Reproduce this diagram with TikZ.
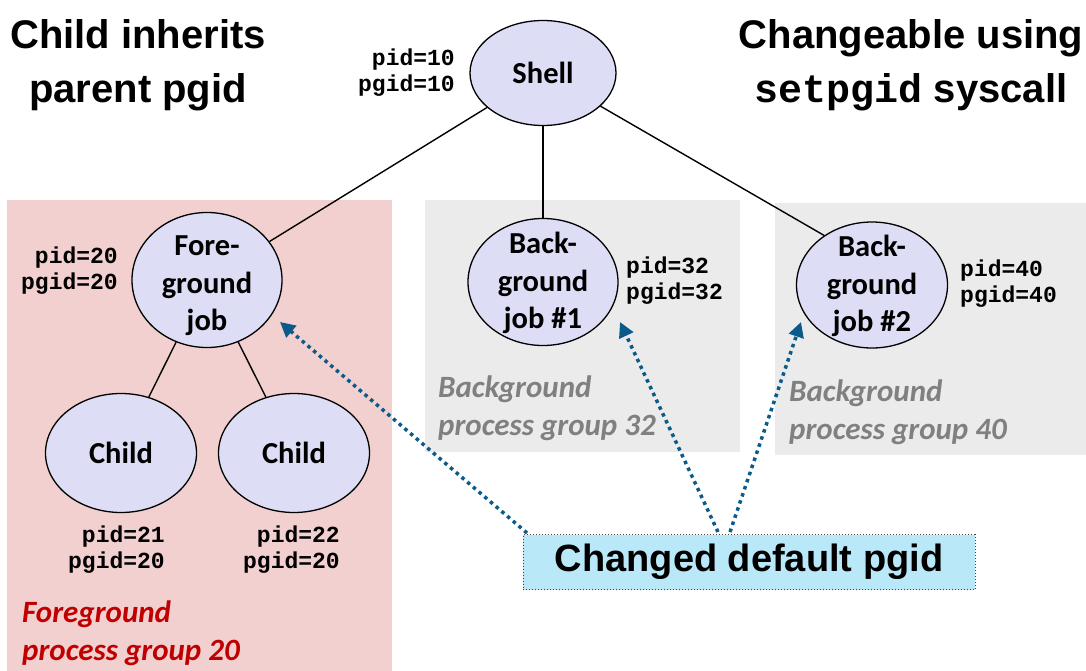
\documentclass[tikz,border=0pt]{standalone}
\usepackage{fontspec}
\setmainfont{Liberation Sans}
\newfontfamily\calfont{Carlito}
\newfontfamily\monofont{Liberation Mono}
\usetikzlibrary{arrows.meta,shapes.geometric}
\definecolor{procfill}{HTML}{DDDDF5}
\definecolor{pinkbg}{HTML}{F2D0CF}
\definecolor{graybg}{HTML}{EBEBEB}
\definecolor{graytext}{HTML}{808080}
\definecolor{redtext}{HTML}{C00000}
\definecolor{cyanbox}{HTML}{B9E9F9}
\definecolor{arrowblue}{HTML}{0B5A8A}
\tikzset{
  proc/.style={ellipse, draw=black, line width=1.3pt, fill=procfill, inner sep=0pt},
  ptext/.style={align=center, font=\calfont\bfseries\fontsize{30.5}{37.5}\selectfont, inner sep=0pt},
  pidl/.style={font=\monofont\bfseries\fontsize{23}{26}\selectfont, inner sep=0pt},
  title/.style={align=center, font=\bfseries\fontsize{40}{54}\selectfont, inner sep=0pt},
  grp/.style={align=left, anchor=west, font=\calfont\bfseries\itshape\fontsize{31}{38}\selectfont, inner sep=0pt},
  edge/.style={line width=1.4pt, black},
  ptr/.style={line width=3.5pt, arrowblue, dash pattern=on 3.5pt off 4pt, -{Triangle[length=15pt,width=15pt]}},
}
\begin{document}
\begin{tikzpicture}[x=1pt,y=-1pt]
\useasboundingbox (0,0) rectangle (1086,671);
% group backgrounds
\fill[pinkbg] (7,200) rectangle (392,671);
\fill[graybg] (425,200) rectangle (740,452);
\fill[graybg] (775,203) rectangle (1086,455);
% titles
\node[title] (t1) at (138,65) {Child inherits\\parent pgid};
\node[title] (t2) at (911,65) {Changeable using\\{\monofont\bfseries setpgid} syscall};
% process ellipses
\node[proc, minimum width=146pt, minimum height=105pt] (shell) at (543,73) {};
\node[proc, minimum width=150pt, minimum height=135pt] (fg) at (207,280) {};
\node[proc, minimum width=151pt, minimum height=119pt] (c1) at (121,453) {};
\node[proc, minimum width=151pt, minimum height=119pt] (c2) at (294,453) {};
\node[proc, minimum width=150pt, minimum height=127pt] (bg1) at (543,282) {};
\node[proc, minimum width=151pt, minimum height=126pt] (bg2) at (872,285) {};
\node[ptext] (shellt) at (shell) {Shell};
\node[ptext] (fgt) at ([yshift=-6pt]fg.center) {Fore-\\ground\\job};
\node[ptext] (c1t) at (c1) {Child};
\node[ptext] (c2t) at (c2) {Child};
\node[ptext] (bg1t) at ([yshift=-1pt]bg1.center) {Back-\\ground\\job \#1};
\node[ptext] (bg2t) at ([yshift=-1pt]bg2.center) {Back-\\ground\\job \#2};
% tree edges
\draw[edge] (shell) -- (fg);
\draw[edge] (shell) -- (bg1);
\draw[edge] (shell.-30) -- (bg2.134);
\draw[edge] (fg) -- (c1);
\draw[edge] (fg) -- (c2);
% pid labels
\node[pidl, anchor=east, align=right] (p10) at (455,73) {pid=10\\pgid=10};
\node[pidl, anchor=east, align=right] (p20) at (118,271) {pid=20\\pgid=20};
\node[pidl, anchor=east, align=right] (p21) at (165,550) {pid=21\\pgid=20};
\node[pidl, anchor=east, align=right] (p22) at (340,550) {pid=22\\pgid=20};
\node[pidl, anchor=west, align=left] (p32) at (626,281) {pid=32\\pgid=32};
\node[pidl, anchor=west, align=left] (p40) at (960,284) {pid=40\\pgid=40};
% group labels
\node[grp, text=redtext] (g20) at (22,633) {Foreground\\process group 20};
\node[grp, text=graytext] (g32) at (438,408) {Background\\process group 32};
\node[grp, text=graytext] (g40) at (789,412) {Background\\process group 40};
% changed default pgid box
\node[draw=black!75, dotted, line width=1pt, fill=cyanbox, minimum width=452pt, minimum height=55pt, inner sep=0pt, font=\bfseries\fontsize{38}{44}\selectfont] (chg) at (749,562) {Changed default pgid};
\coordinate (a1) at (280,322);
\coordinate (a2) at (620,322);
\coordinate (a3) at (801,322);
\coordinate (s1) at (527,533);
\coordinate (s2) at (718,532);
\coordinate (s3) at (730,532);
\draw[ptr] (s1) -- (a1);
\draw[ptr] (s2) -- (a2);
\draw[ptr] (s3) -- (a3);
\end{tikzpicture}
\end{document}
